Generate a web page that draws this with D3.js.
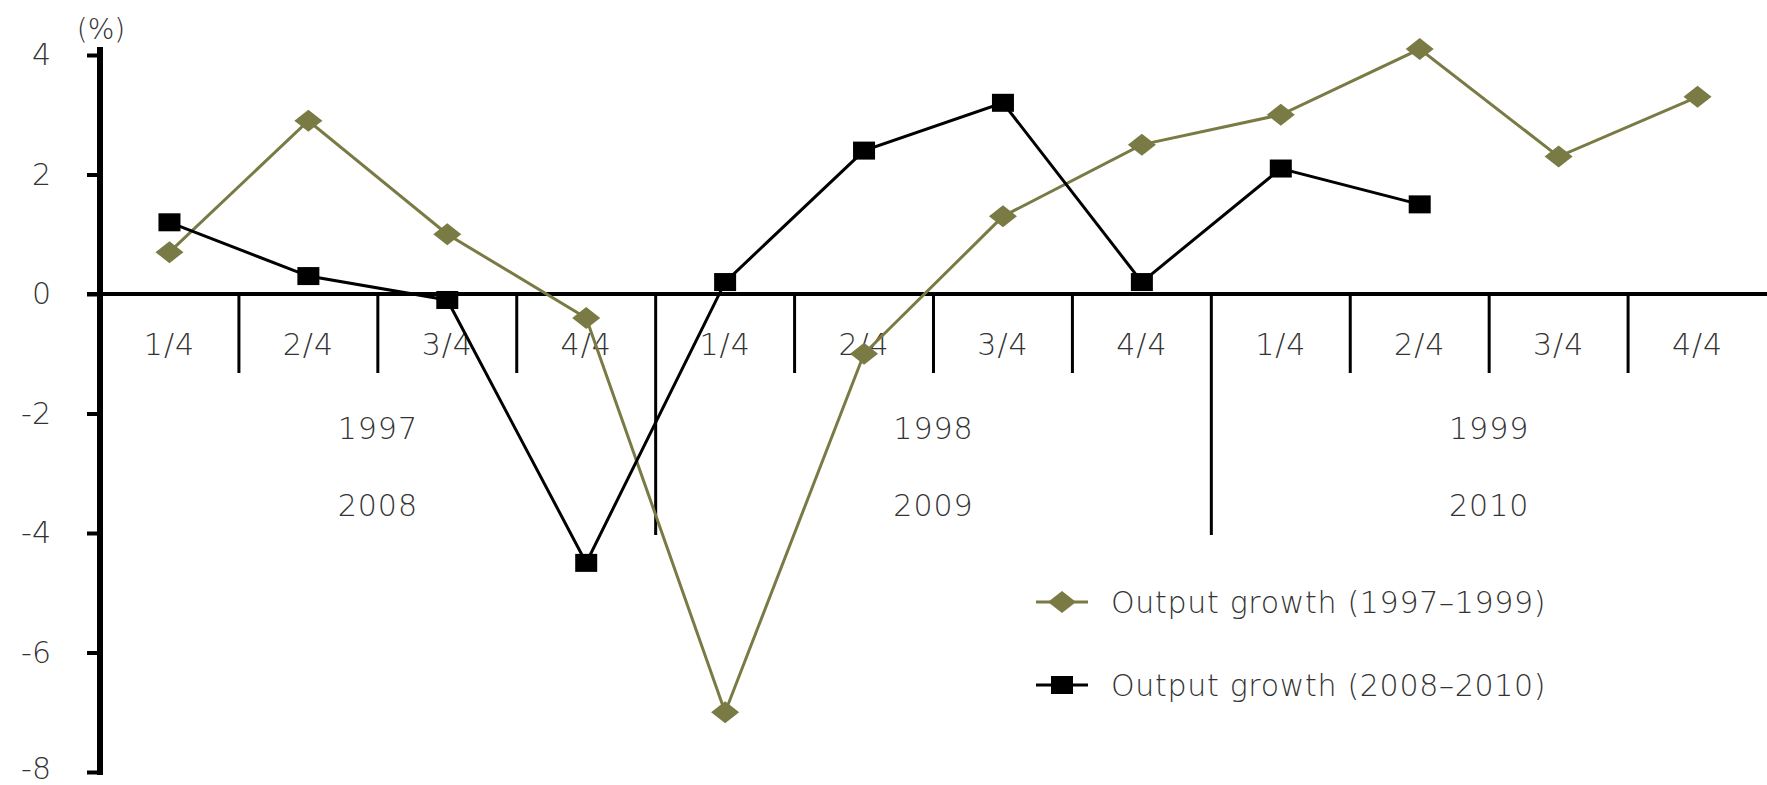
<!DOCTYPE html>
<html lang="en">
<head>
<meta charset="UTF-8">
<script src="https://cdn.jsdelivr.net/npm/d3@7"></script>
<style>
  body { margin: 0; background: #fff; }
  text { font-family: "DejaVu Sans", sans-serif; font-weight: 200; fill: #333; }
</style>
</head>
<body>
<div id="chart"></div>
<script>
// data
const quarters = ["1/4", "2/4", "3/4", "4/4"];
const yearsA = ["1997", "1998", "1999"];
const yearsB = ["2008", "2009", "2010"];
const growthA = [0.7, 2.9, 1.0, -0.4, -7.0, -1.0, 1.3, 2.5, 3.0, 4.1, 2.3, 3.3];
const growthB = [1.2, 0.3, -0.1, -4.5, 0.2, 2.4, 3.2, 0.2, 2.1, 1.5];
const yTicks = [4, 2, 0, -2, -4, -6, -8];
const seriesNames = ["Output growth (1997\u20131999)", "Output growth (2008\u20132010)"];

const width = 1767, height = 785;
const olive = "#7a7a45";

const svg = d3.select("#chart").append("svg")
  .attr("width", width)
  .attr("height", height);

const slots = d3.range(yearsA.length * quarters.length);
const x = d3.scaleBand().domain(slots).range([100, 1767]);
const y = d3.scaleLinear().domain([-8, 4]).range([772, 55]);
const cx = i => x(i) + x.bandwidth() / 2;

// y axis
const yAxis = svg.append("g")
  .attr("transform", "translate(100,0)")
  .call(d3.axisLeft(y).tickValues(yTicks).tickSize(13).tickPadding(36)
    .tickFormat(d => d < 0 ? "-" + Math.abs(d) : d));
yAxis.select(".domain").remove();
yAxis.selectAll(".tick line").attr("stroke", "#000").attr("stroke-width", 4);
yAxis.selectAll(".tick text")
  .attr("font-size", 30)
  .attr("font-family", null)
  .attr("fill", "#333")
  .attr("dy", d => d === -8 ? "0.22em" : "0.32em");
svg.append("line")
  .attr("x1", 100).attr("x2", 100)
  .attr("y1", y(4) - 8).attr("y2", y(-8) + 3)
  .attr("stroke", "#000").attr("stroke-width", 6);

svg.append("text")
  .attr("x", 101).attr("y", 39)
  .attr("text-anchor", "middle")
  .attr("font-size", 28)
  .text("(%)");

// x axis line at zero
svg.append("line")
  .attr("x1", 87).attr("x2", width)
  .attr("y1", y(0)).attr("y2", y(0))
  .attr("stroke", "#000").attr("stroke-width", 4);

// dividers between quarters and years
slots.slice(1).forEach(i => {
  const yearEdge = i % quarters.length === 0;
  svg.append("line")
    .attr("x1", x(i)).attr("x2", x(i))
    .attr("y1", y(0)).attr("y2", yearEdge ? 535 : 373)
    .attr("stroke", "#000").attr("stroke-width", 3);
});

// quarter labels
slots.forEach(i => {
  svg.append("text")
    .attr("x", cx(i)).attr("y", 355)
    .attr("text-anchor", "middle")
    .attr("font-size", 30)
    .attr("letter-spacing", 1)
    .text(quarters[i % quarters.length]);
});

// year labels
yearsA.forEach((yr, k) => {
  const mid = (x(k * 4) + x(k * 4 + 3) + x.bandwidth()) / 2;
  svg.append("text").attr("x", mid).attr("y", 439)
    .attr("text-anchor", "middle").attr("font-size", 30)
    .attr("letter-spacing", 1).text(yr);
  svg.append("text").attr("x", mid).attr("y", 516)
    .attr("text-anchor", "middle").attr("font-size", 30)
    .attr("letter-spacing", 1).text(yearsB[k]);
});

const line = d3.line().x((d, i) => cx(i)).y(d => y(d));

// series A (olive diamonds)
svg.append("path")
  .datum(growthA)
  .attr("fill", "none").attr("stroke", olive).attr("stroke-width", 3)
  .attr("d", line);
const diamond = (px, py) => `M${px - 14},${py}L${px},${py - 11}L${px + 14},${py}L${px},${py + 11}Z`;
svg.selectAll(".ptA").data(growthA).join("path")
  .attr("class", "ptA")
  .attr("d", (d, i) => diamond(cx(i), y(d)))
  .attr("fill", olive);

// series B (black squares)
svg.append("path")
  .datum(growthB)
  .attr("fill", "none").attr("stroke", "#000").attr("stroke-width", 3)
  .attr("d", line);
svg.selectAll(".ptB").data(growthB).join("rect")
  .attr("class", "ptB")
  .attr("x", (d, i) => cx(i) - 11).attr("y", d => y(d) - 9)
  .attr("width", 22).attr("height", 18)
  .attr("fill", "#000");

// legend
const legend = svg.append("g");
[olive, "#000"].forEach((c, k) => {
  const ly = 602 + k * 83;
  legend.append("line")
    .attr("x1", 1036).attr("x2", 1088).attr("y1", ly).attr("y2", ly)
    .attr("stroke", c).attr("stroke-width", 3);
  if (k === 0) {
    legend.append("path").attr("d", diamond(1062, ly)).attr("fill", c);
  } else {
    legend.append("rect").attr("x", 1051).attr("y", ly - 9)
      .attr("width", 22).attr("height", 18).attr("fill", c);
  }
  legend.append("text")
    .attr("x", 1111).attr("y", ly + 11)
    .attr("font-size", 30)
    .attr("letter-spacing", 0.7)
    .text(seriesNames[k]);
});
</script>
</body>
</html>
